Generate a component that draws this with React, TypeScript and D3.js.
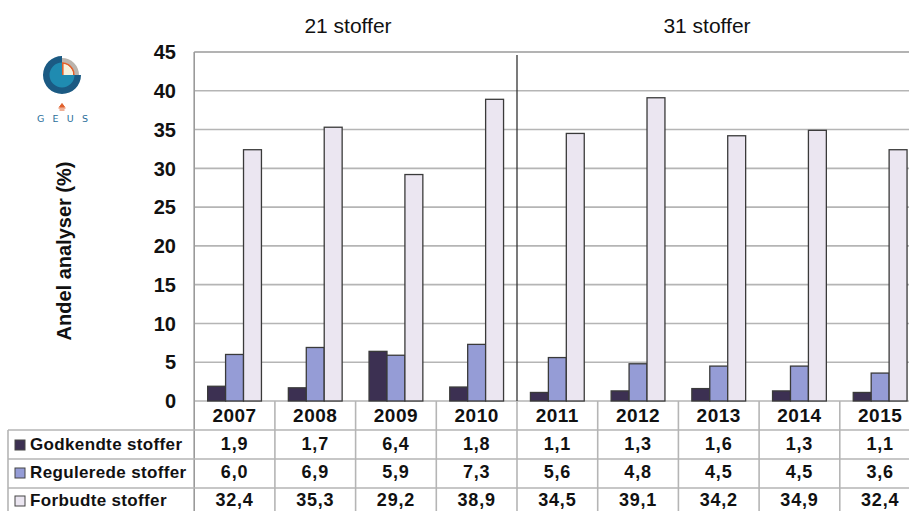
import React from "react";
import * as d3 from "d3";

const years = ["2007", "2008", "2009", "2010", "2011", "2012", "2013", "2014", "2015"];
const godkendte = [1.9, 1.7, 6.4, 1.8, 1.1, 1.3, 1.6, 1.3, 1.1];
const regulerede = [6.0, 6.9, 5.9, 7.3, 5.6, 4.8, 4.5, 4.5, 3.6];
const forbudte = [32.4, 35.3, 29.2, 38.9, 34.5, 39.1, 34.2, 34.9, 32.4];
const yTicks = [0, 5, 10, 15, 20, 25, 30, 35, 40, 45];
const seriesNames = ["Godkendte stoffer", "Regulerede stoffer", "Forbudte stoffer"];
const seriesColors = ["#3c3052", "#959cd6", "#ebe6f1"];
const groupTitles = ["21 stoffer", "31 stoffer"];

const W = 909;
const H = 511;
const plotLeft = 194.2;
const step = 80.7;
const plotTop = 52;
const plotBottom = 401;
const rowLines = [430, 459, 488];
const rowBaselines = [450, 478, 506];
const fmt = (v: number) => v.toFixed(1).replace(".", ",");

export default function App() {
  const x = d3.scaleBand<string>().domain(years).range([plotLeft, plotLeft + step * years.length]).padding(0);
  const inner = d3.scaleBand<number>().domain([0, 1, 2]).range([step / 6, (step * 5) / 6]).padding(0);
  const y = d3.scaleLinear().domain([0, 45]).range([plotBottom, plotTop]);
  const series = [godkendte, regulerede, forbudte];
  const divX = x("2011")!;
  const arc = d3.arc<any>();
  const lc = 62, lcy = 75;

  return (
    <svg width={W} height={H} style={{ position: "absolute", left: 0, top: 0, background: "#fff" }} fontFamily="'Liberation Sans', Arial, sans-serif">
      {/* logo */}
      <g transform={`translate(${lc},${lcy})`}>
        <path d={arc({ innerRadius: 0, outerRadius: 19, startAngle: Math.PI / 2, endAngle: 2 * Math.PI })!} fill="#1b5a83" />
        <path d={arc({ innerRadius: 0, outerRadius: 12.5, startAngle: Math.PI / 2, endAngle: 2 * Math.PI })!} fill="#1f8bb1" />
        <path d={arc({ innerRadius: 12.5, outerRadius: 17, startAngle: 0, endAngle: Math.PI / 2 })!} fill="#bab4ad" />
        <path d={arc({ innerRadius: 11, outerRadius: 12.8, startAngle: 0, endAngle: Math.PI / 2 })!} fill="#e0602c" />
        <path d={arc({ innerRadius: 0, outerRadius: 11, startAngle: 0, endAngle: Math.PI / 2 })!} fill="#f4f1dd" />
        <rect x={0} y={-12.5} width={1.6} height={12.5} fill="#e0602c" />
      </g>
      <path d="M58.5,108 L65.5,108 M59.5,110 L64.5,110 M62,103.5 L59.5,107 L64.5,107 Z" stroke="#e0602c" strokeWidth={1} fill="#e0602c" />
      <text x={37} y={122} fontSize={9.5} fill="#2a6e9a" letterSpacing={8.2} fontFamily="'DejaVu Sans', sans-serif">GEUS</text>

      {/* group titles */}
      <text x={348} y={33} fontSize={21} textAnchor="middle" fill="#111">{groupTitles[0]}</text>
      <text x={707} y={33} fontSize={21} textAnchor="middle" fill="#111">{groupTitles[1]}</text>

      {/* gridlines */}
      {yTicks.map((t) => (
        <line key={t} x1={plotLeft} x2={W} y1={y(t)} y2={y(t)} stroke={t === 45 ? "#9a9a9a" : "#b5b5b5"} strokeWidth={1.6} />
      ))}
      {/* y tick labels */}
      {yTicks.map((t) => (
        <text key={"l" + t} x={176} y={y(t)} dy="0.36em" fontSize={20} fontWeight="bold" textAnchor="end" fill="#111">{t}</text>
      ))}
      <text transform={`translate(71,251) rotate(-90)`} fontSize={20} fontWeight="bold" textAnchor="middle" fill="#111">Andel analyser (%)</text>

      {/* bars */}
      {years.map((yr, i) => (
        <g key={yr}>
          {series.map((s, k) => (
            <rect key={k} x={x(yr)! + inner(k)!} y={y(s[i])} width={inner.bandwidth()} height={y(0) - y(s[i])} fill={seriesColors[k]} stroke="#3a3a3a" strokeWidth={1.3} />
          ))}
        </g>
      ))}

      {/* axes */}
      <line x1={plotLeft} x2={plotLeft} y1={plotTop} y2={H} stroke="#9a9a9a" strokeWidth={1.6} />
      <line x1={divX} x2={divX} y1={55} y2={plotBottom} stroke="#333" strokeWidth={1.3} />

      {/* table */}
      {years.map((yr) => (
        <line key={"v" + yr} x1={x(yr)! + step} x2={x(yr)! + step} y1={plotBottom} y2={H} stroke="#b5b5b5" strokeWidth={1.6} />
      ))}
      <line x1={8} x2={8} y1={rowLines[0]} y2={H} stroke="#b5b5b5" strokeWidth={1.6} />
      {rowLines.map((ry) => (
        <line key={ry} x1={8} x2={W} y1={ry} y2={ry} stroke="#b5b5b5" strokeWidth={1.6} />
      ))}
      {years.map((yr) => (
        <text key={"y" + yr} x={x(yr)! + step / 2} y={422} fontSize={19} fontWeight="bold" textAnchor="middle" fill="#111" letterSpacing={0.5}>{yr}</text>
      ))}
      {series.map((s, k) => (
        <g key={"row" + k}>
          <rect x={15} y={rowBaselines[k] - 10} width={10} height={10} fill={seriesColors[k]} stroke="#444" strokeWidth={1} />
          <text x={30} y={rowBaselines[k]} fontSize={17} fontWeight="bold" fill="#111" letterSpacing={0.35}>{seriesNames[k]}</text>
          {years.map((yr, i) => (
            <text key={yr} x={x(yr)! + step / 2} y={rowBaselines[k]} fontSize={18} fontWeight="bold" textAnchor="middle" fill="#111" letterSpacing={0.8}>{fmt(s[i])}</text>
          ))}
        </g>
      ))}
    </svg>
  );
}
